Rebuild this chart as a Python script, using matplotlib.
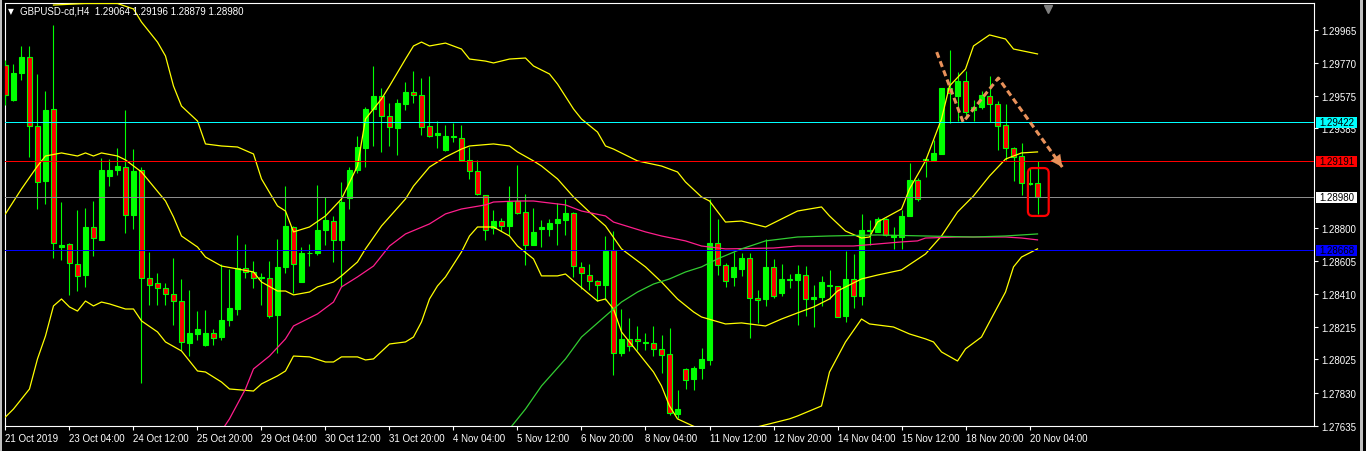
import matplotlib
matplotlib.use('Agg')
import matplotlib.pyplot as plt
from matplotlib.patches import Rectangle, FancyBboxPatch
import numpy as np

plt.rcParams['font.family'] = ['Liberation Sans', 'DejaVu Sans']

# GBPUSD H4 candles (bar 0 = 21 Oct 2019 20:00)
opens = [1.29760, 1.29554, 1.29711, 1.29805, 1.29397, 1.29073, 1.29499, 1.28687, 1.28704, 1.28587,
         1.28520, 1.28804, 1.28730, 1.29103, 1.29138, 1.29158, 1.28873, 1.29140, 1.28504, 1.28475,
         1.28445, 1.28410, 1.28371, 1.28121, 1.28174, 1.28112, 1.28180, 1.28155, 1.28255, 1.28323,
         1.28563, 1.28538, 1.28504, 1.28504, 1.28284, 1.28569, 1.28804, 1.28479, 1.28649, 1.28649,
         1.28785, 1.28842, 1.28726, 1.28973, 1.29142, 1.29273, 1.29499, 1.29574, 1.29456, 1.29385,
         1.29527, 1.29599, 1.29582, 1.29399, 1.29344, 1.29256, 1.29332, 1.29328, 1.29199, 1.29134,
         1.28993, 1.28798, 1.28838, 1.28812, 1.28957, 1.28893, 1.28696, 1.28795, 1.28795, 1.28826,
         1.28848, 1.28887, 1.28569, 1.28522, 1.28488, 1.28465, 1.28669, 1.28062, 1.28145, 1.28145,
         1.28119, 1.28121, 1.28086, 1.28057, 1.27705, 1.27968, 1.27909, 1.27974, 1.28023, 1.28710,
         1.28579, 1.28508, 1.28559, 1.28622, 1.28386, 1.28381, 1.28569, 1.28414, 1.28490, 1.28490,
         1.28520, 1.28381, 1.28390, 1.28455, 1.28455, 1.28278, 1.28498, 1.28396, 1.28779, 1.28773,
         1.28851, 1.28745, 1.28745, 1.28867, 1.29083, 1.29195, 1.29201, 1.29236, 1.29625, 1.29578,
         1.29666, 1.29491, 1.29509, 1.29578, 1.29529, 1.29405, 1.29272, 1.29224, 1.29059, 1.29064]
highs = [1.29790, 1.29766, 1.29872, 1.29868, 1.29707, 1.29603, 1.29996, 1.28954, 1.28710, 1.28906,
         1.28916, 1.28959, 1.29211, 1.29205, 1.29268, 1.29495, 1.29264, 1.29156, 1.28657, 1.28534,
         1.28475, 1.28622, 1.28500, 1.28435, 1.28312, 1.28318, 1.28206, 1.28588, 1.28557, 1.28759,
         1.28704, 1.28606, 1.28534, 1.28602, 1.28734, 1.29044, 1.28808, 1.28687, 1.28706, 1.29054,
         1.28979, 1.28871, 1.29071, 1.29156, 1.29342, 1.29511, 1.29754, 1.29623, 1.29534, 1.29560,
         1.29660, 1.29725, 1.29682, 1.29695, 1.29430, 1.29407, 1.29417, 1.29407, 1.29275, 1.29199,
         1.28993, 1.28906, 1.28857, 1.29044, 1.29171, 1.29001, 1.28916, 1.28848, 1.28853, 1.28946,
         1.28969, 1.28895, 1.28598, 1.28588, 1.28494, 1.28753, 1.28779, 1.28323, 1.28269, 1.28223,
         1.28180, 1.28223, 1.28170, 1.28210, 1.27847, 1.27974, 1.27984, 1.28092, 1.28971, 1.28853,
         1.28592, 1.28657, 1.28651, 1.28651, 1.28435, 1.28736, 1.28618, 1.28588, 1.28528, 1.28583,
         1.28577, 1.28465, 1.28514, 1.28549, 1.28459, 1.28661, 1.28647, 1.28883, 1.28848, 1.28863,
         1.28857, 1.28802, 1.28906, 1.29181, 1.29093, 1.29220, 1.29319, 1.29625, 1.29849, 1.29715,
         1.29721, 1.29554, 1.29607, 1.29697, 1.29548, 1.29529, 1.29275, 1.29299, 1.29152, 1.29196]
lows = [1.29525, 1.29544, 1.29672, 1.29220, 1.28912, 1.28942, 1.28622, 1.28612, 1.28406, 1.28426,
        1.28451, 1.28632, 1.28730, 1.29044, 1.29109, 1.28769, 1.28795, 1.27886, 1.28343, 1.28343,
        1.28347, 1.28227, 1.28082, 1.28043, 1.28141, 1.28102, 1.28112, 1.28141, 1.28219, 1.28288,
        1.28504, 1.28445, 1.28343, 1.28269, 1.28062, 1.28534, 1.28416, 1.28479, 1.28573, 1.28641,
        1.28700, 1.28596, 1.28451, 1.28912, 1.29122, 1.29156, 1.29283, 1.29244, 1.29279, 1.29226,
        1.29495, 1.29538, 1.29344, 1.29332, 1.29268, 1.29250, 1.29303, 1.29191, 1.29089, 1.28995,
        1.28730, 1.28765, 1.28779, 1.28759, 1.28879, 1.28583, 1.28696, 1.28685, 1.28753, 1.28696,
        1.28755, 1.28508, 1.28441, 1.28435, 1.28371, 1.28377, 1.27935, 1.28043, 1.28076, 1.28082,
        1.28082, 1.28043, 1.27945, 1.27699, 1.27680, 1.27852, 1.27847, 1.27911, 1.27990, 1.28520,
        1.28449, 1.28455, 1.28514, 1.28151, 1.28239, 1.28337, 1.28384, 1.28396, 1.28445, 1.28229,
        1.28278, 1.28216, 1.28337, 1.28381, 1.28274, 1.28245, 1.28327, 1.28343, 1.28700, 1.28773,
        1.28749, 1.28675, 1.28675, 1.28867, 1.28956, 1.29099, 1.29197, 1.29236, 1.29417, 1.29430,
        1.29456, 1.29427, 1.29499, 1.29423, 1.29260, 1.29197, 1.29077, 1.28995, 1.29054, 1.28879]
closes = [1.29584, 1.29711, 1.29805, 1.29397, 1.29067, 1.29495, 1.28710, 1.28698, 1.28592, 1.28514,
          1.28804, 1.28738, 1.29142, 1.29142, 1.29162, 1.28873, 1.29136, 1.28504, 1.28463, 1.28445,
          1.28412, 1.28371, 1.28125, 1.28180, 1.28204, 1.28180, 1.28151, 1.28259, 1.28327, 1.28563,
          1.28539, 1.28504, 1.28508, 1.28282, 1.28569, 1.28812, 1.28587, 1.28653, 1.28653, 1.28789,
          1.28846, 1.28726, 1.28954, 1.29142, 1.29275, 1.29499, 1.29578, 1.29456, 1.29393, 1.29534,
          1.29601, 1.29582, 1.29393, 1.29342, 1.29360, 1.29342, 1.29342, 1.29201, 1.29134, 1.28999,
          1.28785, 1.28842, 1.28808, 1.28952, 1.28885, 1.28700, 1.28777, 1.28806, 1.28828, 1.28853,
          1.28889, 1.28573, 1.28534, 1.28484, 1.28461, 1.28665, 1.28062, 1.28145, 1.28106, 1.28131,
          1.28129, 1.28086, 1.28049, 1.27709, 1.27735, 1.27905, 1.27974, 1.28027, 1.28710, 1.28579,
          1.28484, 1.28569, 1.28622, 1.28386, 1.28375, 1.28571, 1.28396, 1.28498, 1.28500, 1.28528,
          1.28381, 1.28390, 1.28481, 1.28465, 1.28274, 1.28498, 1.28396, 1.28789, 1.28789, 1.28851,
          1.28757, 1.28757, 1.28871, 1.29083, 1.28969, 1.29205, 1.29240, 1.29625, 1.29593, 1.29666,
          1.29482, 1.29511, 1.29584, 1.29529, 1.29397, 1.29270, 1.29220, 1.29063, 1.29064, 1.28980]

# Bollinger bands
bb_upper_bars = [6, 10, 14, 16, 17, 19, 20, 21, 22, 24, 25, 27, 29, 31, 32, 34, 35, 36, 38, 40, 42, 44, 45, 47, 48,
                 50, 51, 52, 53, 55, 57, 58, 60, 61, 63, 65, 66, 68, 69, 71, 72, 74, 75, 76, 79, 82, 84, 85, 87, 88,
                 90, 92, 95, 99, 102, 103, 105, 107, 108, 109, 112, 113, 115, 117, 118, 120, 121, 123, 125, 126, 129]
bb_upper = [1.30112, 1.30121, 1.30121, 1.30089, 1.30012, 1.29894, 1.29812, 1.29635, 1.29517, 1.29429,
            1.29294, 1.29282, 1.29276, 1.29235, 1.29088, 1.28929, 1.28899, 1.28776, 1.28805, 1.28870,
            1.28970, 1.29164, 1.29441, 1.29559, 1.29635, 1.29794, 1.29871, 1.29894, 1.29871, 1.29888,
            1.29853, 1.29794, 1.29782, 1.29771, 1.29794, 1.29800, 1.29753, 1.29706, 1.29647, 1.29500,
            1.29441, 1.29364, 1.29282, 1.29264, 1.29194, 1.29164, 1.29129, 1.29070, 1.28982, 1.28958,
            1.28834, 1.28840, 1.28805, 1.28899, 1.28923, 1.28870, 1.28781, 1.28740, 1.28746, 1.28834,
            1.28911, 1.29029, 1.29194, 1.29441, 1.29635, 1.29735, 1.29871, 1.29936, 1.29912, 1.29853, 1.29824]
bb_mid_bars = [0, 2, 4, 5, 7, 9, 10, 11, 12, 14, 15, 17, 20, 21, 22, 24, 25, 27, 29, 31, 32, 34, 35, 36, 38,
               39, 41, 42, 44, 45, 47, 50, 51, 53, 55, 57, 58, 61, 63, 64, 66, 67, 69, 71, 73, 75, 77, 80, 82, 84,
               86, 87, 90, 92, 95, 97, 99, 101, 103, 104, 107, 109, 112, 115, 117, 119, 121, 123, 125, 127, 129]
bb_mid = [1.28882, 1.29029, 1.29164, 1.29223, 1.29241, 1.29223, 1.29241, 1.29223, 1.29241, 1.29223,
          1.29200, 1.29129, 1.28958, 1.28864, 1.28752, 1.28687, 1.28628, 1.28575, 1.28558, 1.28540,
          1.28481, 1.28428, 1.28428, 1.28405, 1.28422, 1.28452, 1.28481, 1.28517, 1.28599, 1.28676,
          1.28811, 1.28970, 1.29046, 1.29158, 1.29217, 1.29264, 1.29282, 1.29294, 1.29282, 1.29247,
          1.29194, 1.29164, 1.29088, 1.28982, 1.28893, 1.28811, 1.28676, 1.28570, 1.28481, 1.28381,
          1.28305, 1.28275, 1.28234, 1.28240, 1.28222, 1.28263, 1.28299, 1.28334, 1.28381, 1.28428,
          1.28499, 1.28522, 1.28552, 1.28646, 1.28752, 1.28893, 1.28988, 1.29105, 1.29205, 1.29241, 1.29247]
bb_lower_bars = [0, 1, 3, 4, 5, 6, 7, 8, 9, 10, 11, 12, 13, 15, 16, 17, 19, 20, 22, 24, 25, 27, 28, 31, 32,
                 34, 35, 36, 38, 40, 41, 42, 44, 45, 46, 48, 50, 51, 52, 53, 54, 55, 57, 58, 59, 61, 63, 64, 66, 67,
                 69, 70, 71, 74, 75, 76, 77, 79, 81, 82, 83, 84, 87, 90, 94, 98, 99, 102, 103, 105, 107, 108, 111,
                 113, 115, 116, 117, 119, 120, 122, 123, 125, 126, 127, 129]
bb_lower = [1.27686, 1.27733, 1.27851, 1.28028, 1.28163, 1.28340, 1.28381, 1.28334, 1.28310, 1.28369,
            1.28340, 1.28363, 1.28352, 1.28322, 1.28322, 1.28252, 1.28187, 1.28128, 1.28075, 1.27957,
            1.27951, 1.27892, 1.27851, 1.27839, 1.27881, 1.27928, 1.27957, 1.28045, 1.28040, 1.28010,
            1.28010, 1.28040, 1.28040, 1.28022, 1.28028, 1.28116, 1.28128, 1.28157, 1.28246, 1.28381,
            1.28458, 1.28511, 1.28658, 1.28752, 1.28805, 1.28805, 1.28752, 1.28693, 1.28617, 1.28517,
            1.28517, 1.28528, 1.28487, 1.28369, 1.28381, 1.28322, 1.28187, 1.28069, 1.27951, 1.27869,
            1.27751, 1.27675, 1.27610, 1.27622, 1.27628, 1.27675, 1.27692, 1.27751, 1.27951, 1.28128,
            1.28263, 1.28234, 1.28216, 1.28175, 1.28146, 1.28128, 1.28069, 1.28016, 1.28087, 1.28157,
            1.28246, 1.28422, 1.28570, 1.28628, 1.28676]

# moving averages
ma_pink_bars = [27, 28, 30, 31, 33, 35, 36, 39, 41, 42, 44, 46, 48, 50, 53, 55, 57, 60, 61, 64, 66, 67, 70,
                72, 75, 76, 78, 80, 82, 85, 87, 90, 96, 99, 103, 106, 109, 112, 114, 115, 119, 121, 125, 127, 129]
ma_pink = [1.27604, 1.27675, 1.27851, 1.27969, 1.28045, 1.28146, 1.28222, 1.28293, 1.28363, 1.28452,
           1.28511, 1.28575, 1.28693, 1.28764, 1.28823, 1.28882, 1.28911, 1.28935, 1.28952, 1.28958,
           1.28958, 1.28952, 1.28935, 1.28899, 1.28870, 1.28834, 1.28805, 1.28776, 1.28752, 1.28723,
           1.28693, 1.28676, 1.28681, 1.28693, 1.28693, 1.28693, 1.28705, 1.28717, 1.28723, 1.28740,
           1.28746, 1.28746, 1.28746, 1.28740, 1.28729]
ma_green_bars = [63, 65, 67, 70, 72, 75, 77, 79, 81, 83, 85, 87, 89, 92, 95, 99, 103, 109, 115, 121, 125, 129]
ma_green = [1.27616, 1.27733, 1.27869, 1.28028, 1.28157, 1.28281, 1.28363, 1.28422, 1.28469, 1.28499,
            1.28540, 1.28570, 1.28617, 1.28676, 1.28723, 1.28746, 1.28752, 1.28758, 1.28752, 1.28746,
            1.28752, 1.28764]

# horizontal levels
levels = [1.29422, 1.29191, 1.28980, 1.28668]
level_line_colors = ['#00ffff', '#ff0000', '#8c8c8c', '#0000ff']
level_box_colors = ['#00ffff', '#ff0000', '#ffffff', '#0000ff']

price_ticks = [1.29965, 1.29770, 1.29575, 1.29385, 1.28800, 1.28605, 1.28410, 1.28215, 1.28025, 1.27830, 1.27635]
date_bars = [0, 8, 16, 24, 32, 40, 48, 56, 64, 72, 80, 88, 96, 104, 112, 120, 128]
date_labels = ['21 Oct 2019', '23 Oct 04:00', '24 Oct 12:00', '25 Oct 20:00', '29 Oct 04:00', '30 Oct 12:00',
               '31 Oct 20:00', '4 Nov 04:00', '5 Nov 12:00', '6 Nov 20:00', '8 Nov 04:00', '11 Nov 12:00',
               '12 Nov 20:00', '14 Nov 04:00', '15 Nov 12:00', '18 Nov 20:00', '20 Nov 04:00']

# drawn objects: dashed trend arrow and highlight box
trend_bars = [116.4, 119.7, 124.1, 132.1]
trend_prices = [1.29835, 1.29423, 1.29682, 1.29158]
box_bars = [127.8, 130.4]
box_prices = [1.28870, 1.29152]

ymin, ymax = 1.27633, 1.30124
W, H = 1366, 452

fig = plt.figure(figsize=(W / 100, H / 100), dpi=100, facecolor='black')
ax = fig.add_axes([5 / W, 1 - 427 / H, 1309 / W, 423 / H])
ax.set_facecolor('black')
ax.set_xlim(-0.06, 163.56)
ax.set_ylim(ymin, ymax)
px = (ymax - ymin) / 423  # price per pixel

o = np.array(opens)
h = np.array(highs)
l = np.array(lows)
c = np.array(closes)
x = np.arange(len(o))
up = c >= o

lime = '#00ff00'
ax.vlines(x, l, h, color=lime, lw=0.8, zorder=3)
ax.bar(x[up], (c - o)[up], bottom=o[up], width=0.56, color=lime, edgecolor=lime, lw=0.8, zorder=4)
ax.bar(x[~up], (o - c)[~up], bottom=c[~up], width=0.56, color='#ff0000', edgecolor=lime, lw=0.8, zorder=4)

for bars, vals in [(bb_upper_bars, bb_upper), (bb_mid_bars, bb_mid), (bb_lower_bars, bb_lower)]:
    ax.plot(bars, vals, color='#ffff00', lw=0.9, zorder=5)
ax.plot(ma_pink_bars, ma_pink, color='#ff1e8c', lw=0.9, zorder=5)
ax.plot(ma_green_bars, ma_green, color='#32cd32', lw=0.9, zorder=5)

for p, lc, bc in zip(levels, level_line_colors, level_box_colors):
    ax.axhline(p, color=lc, lw=0.7, antialiased=False, zorder=6)
    ax.add_patch(Rectangle((1.0015, p - 5.5 * px), 41 / 1309, 11 * px, transform=ax.get_yaxis_transform(),
                           fc=bc, ec='none', clip_on=False, zorder=9))
    ax.text(1.0015 + 20.5 / 1309, p, f'{p:.5f}', transform=ax.get_yaxis_transform(), ha='center',
            va='center', fontsize=7, color='black', clip_on=False, zorder=10)

# trend arrow
orange = '#e8915a'
ax.plot(trend_bars, trend_prices, color=orange, lw=2.2, ls=(0, (2.0, 1.2)), zorder=7,
        solid_capstyle='butt', dash_capstyle='butt')
tx = trend_bars[-2] + 0.8 * (trend_bars[-1] - trend_bars[-2])
ty = trend_prices[-2] + 0.8 * (trend_prices[-1] - trend_prices[-2])
ax.annotate('', xy=(trend_bars[-1], trend_prices[-1]), xytext=(tx, ty),
            arrowprops=dict(arrowstyle='-|>,head_length=0.7,head_width=0.35', color=orange, lw=0.1,
                            mutation_scale=12, shrinkA=0, shrinkB=0), zorder=7)

ax.add_patch(FancyBboxPatch((box_bars[0], box_prices[0]), box_bars[1] - box_bars[0],
                            box_prices[1] - box_prices[0], boxstyle='round,pad=0,rounding_size=0.6',
                            mutation_aspect=8 * px, fc='none', ec='#ff0000', lw=1.6, zorder=8))

# chart shift marker
ax.plot([130.3], [ymax - 6 * px], marker='v', color='#808080', ms=6, zorder=8, clip_on=False)

for s in ax.spines.values():
    s.set_color('white')
    s.set_linewidth(0.8)

ax.yaxis.tick_right()
ax.set_yticks(price_ticks)
ax.set_yticklabels([f'{p:.5f}' for p in price_ticks])
ax.tick_params(axis='y', colors='white', labelsize=7, length=3, width=0.8, pad=2)
ax.set_xticks(date_bars)
ax.set_xticklabels(date_labels, ha='left')
ax.tick_params(axis='x', colors='white', labelsize=7, length=3, width=0.8, pad=2)

fig.text(8 / W, 1 - 12 / H, '\u25bc', color='white', fontsize=5.5, va='center',
         family=['DejaVu Sans'])
fig.text(20 / W, 1 - 12 / H,
         f'GBPUSD-cd,H4  {opens[-1]:.5f} {highs[-1]:.5f} {lows[-1]:.5f} {closes[-1]:.5f}',
         color='white', fontsize=7, va='center')

fig.patches.append(Rectangle((0, 0), 2 / W, 1, transform=fig.transFigure, fc='#c0c0c0', ec='none'))
fig.patches.append(Rectangle((1360 / W, 0), 3 / W, 1, transform=fig.transFigure, fc='#c0c0c0', ec='none'))

fig.savefig('out.png', dpi=100, facecolor='black')
